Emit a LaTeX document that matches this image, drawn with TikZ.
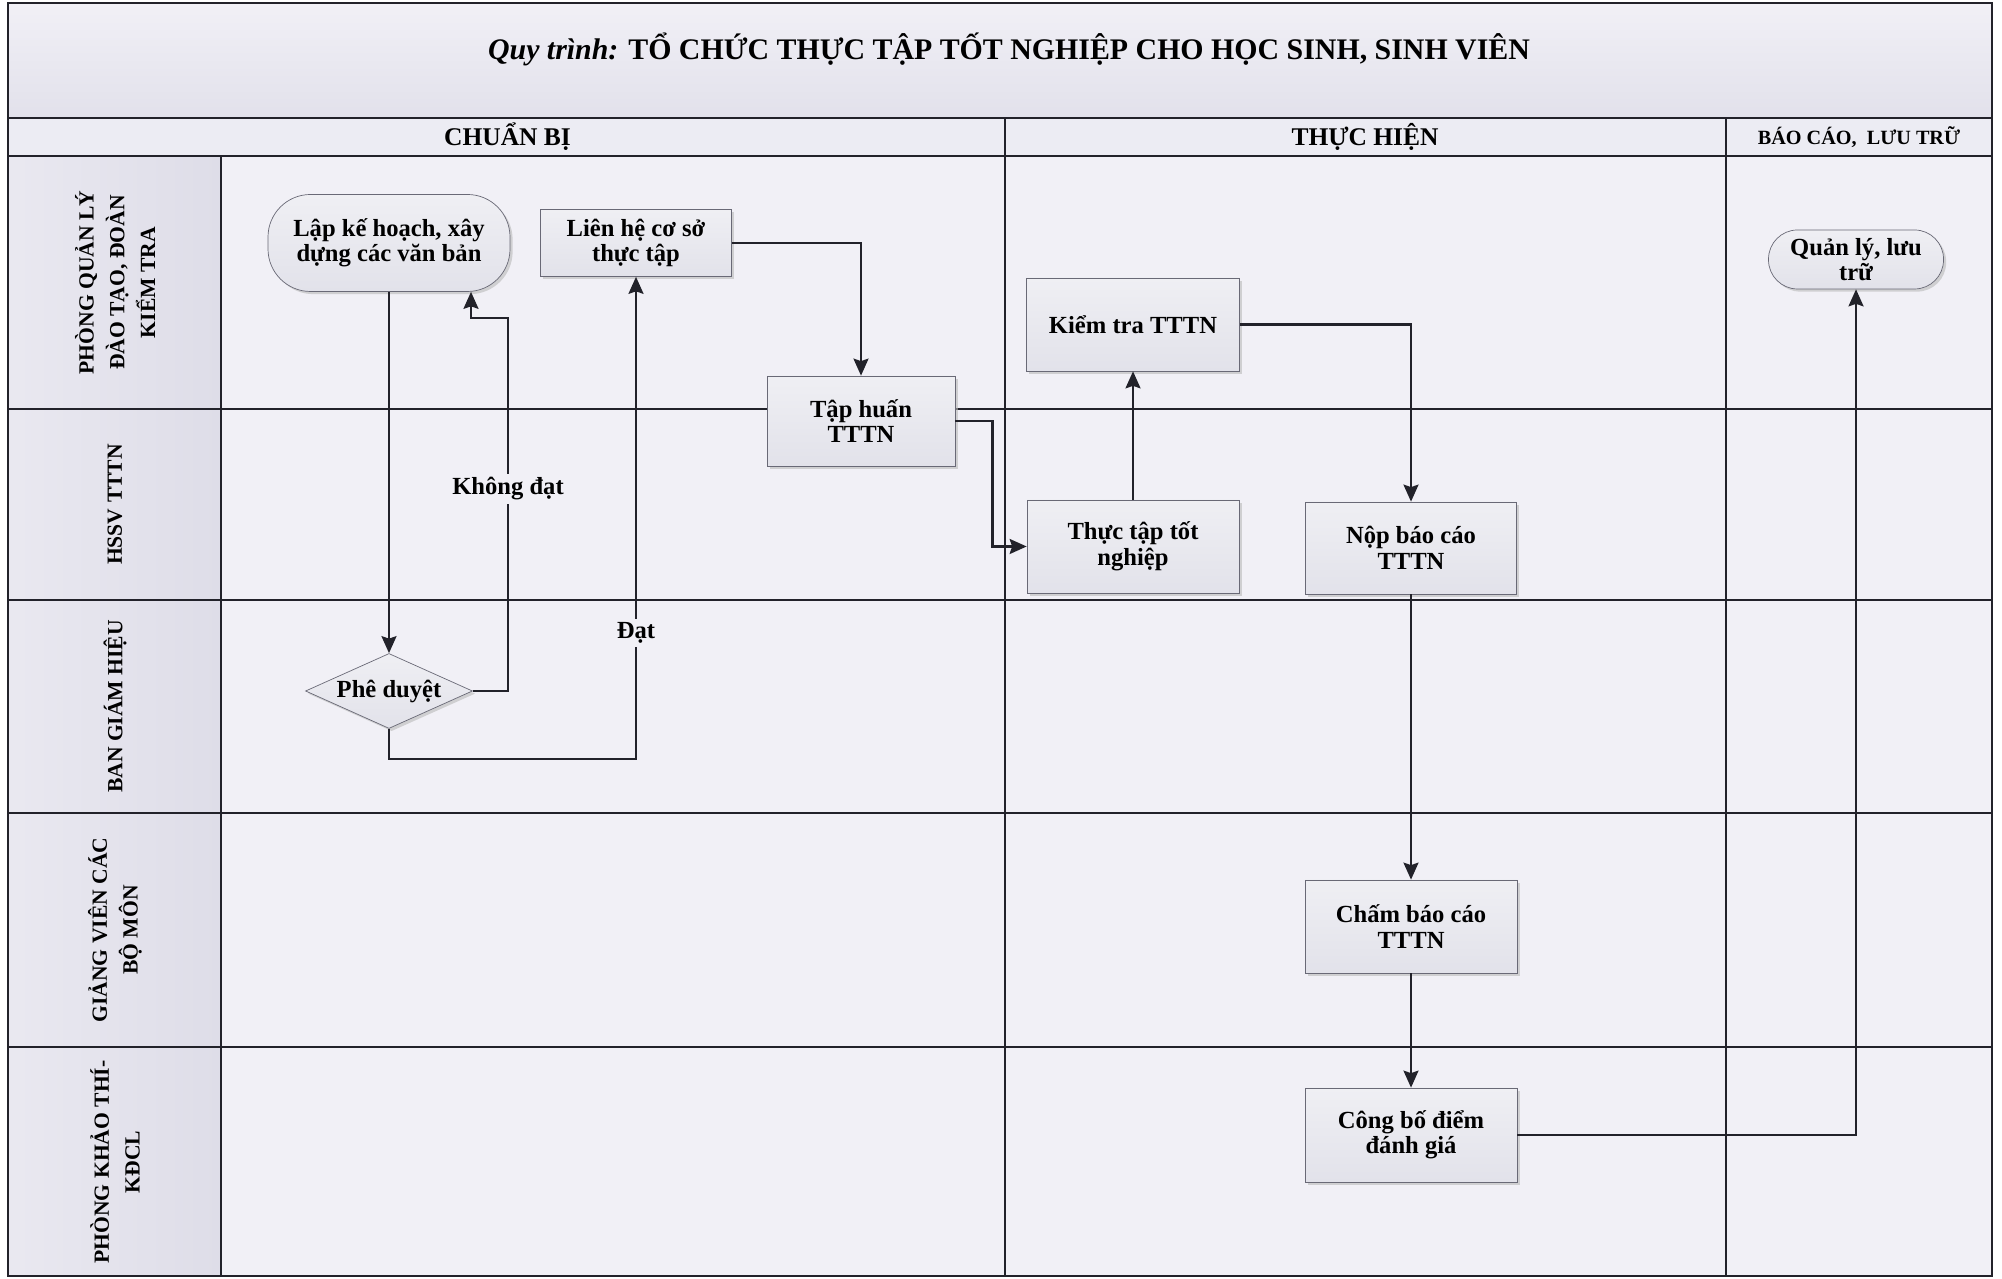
\documentclass[tikz,border=0pt]{standalone}
\usepackage{fontspec}
\setmainfont{Liberation Serif}
\usetikzlibrary{arrows.meta,positioning,shapes.geometric,shadows}

\definecolor{paper}{RGB}{241,240,246}
\definecolor{band}{RGB}{226,225,235}
\definecolor{lanehead}{RGB}{222,221,232}
\definecolor{boxfill}{RGB}{226,226,234}
\definecolor{boxline}{RGB}{105,105,118}
\definecolor{ink}{RGB}{34,34,42}

\begin{document}
\begin{tikzpicture}[font=\bfseries]
  %----- styles
  \tikzset{
    proc/.style    ={draw=boxline,thin,top color=boxfill!55!white,bottom color=boxfill,
                     drop shadow={shadow xshift=1.5pt,shadow yshift=-1.5pt,fill=gray!55,opacity=0.6},
                     align=center,font=\bfseries\fontsize{14}{14.5}\selectfont},
    term/.style    ={proc,rounded corners=0.85cm},
    decision/.style={proc,diamond,aspect=2.2,inner sep=0pt,minimum width=3.34cm,minimum height=1.5cm},
    lanelabel/.style={rotate=90,align=center,font=\bfseries\fontsize{12.3}{17.5}\selectfont},
    phase/.style   ={font=\bfseries\fontsize{14.5}{16}\selectfont},
    grid/.style    ={ink,line width=1.1pt},
    flow/.style    ={ink,line width=1.3pt,-{Stealth[length=0.34cm,width=0.3cm,inset=0.05cm]}},
    note/.style    ={fill=paper,inner sep=2pt,font=\bfseries\fontsize{14}{14.5}\selectfont}
  }

  %----- background and frame
  \useasboundingbox (0,0) rectangle (40.04,25.58);
  \fill[white] (0,0) rectangle (40.04,25.58);
  \fill[paper] (0.16,0.06) rectangle (39.84,25.52);
  \shade[top color=paper,bottom color=band] (0.16,23.22) rectangle (39.84,25.52);
  \fill[paper!70!band] (0.16,22.46) rectangle (39.84,23.22);
  \shade[left color=paper!60!lanehead,right color=lanehead] (0.16,0.06) rectangle (4.42,22.46);

  % lane lines
  \draw[grid,line width=1.6pt] (0.16,23.22) -- (39.84,23.22);
  \draw[grid,line width=1.6pt] (0.16,22.46) -- (39.84,22.46);
  \draw[grid] (0.16,17.4)  -- (39.84,17.4);
  \draw[grid] (0.16,13.58) -- (39.84,13.58);
  \draw[grid] (0.16,9.32)  -- (39.84,9.32);
  \draw[grid] (0.16,4.64)  -- (39.84,4.64);
  % column lines
  \draw[grid,line width=0.9pt] (4.42,22.46) -- (4.42,0.06);
  \draw[grid,line width=0.9pt] (20.1,23.22) -- (20.1,0.06);
  \draw[grid,line width=0.9pt] (34.52,23.22) -- (34.52,0.06);
  \draw[grid,line width=1.4pt] (0.16,0.06) rectangle (39.84,25.52);

  %----- title and phases
  \node[font=\bfseries\fontsize{17}{20}\selectfont] (title) at (20.18,24.6)
    {\textit{Quy trình:} TỔ CHỨC THỰC TẬP TỐT NGHIỆP CHO HỌC SINH, SINH VIÊN};
  \node[phase] (chuanbi) at (10.15,22.84) {CHUẨN BỊ};
  \node[phase] (thuchien) at (27.3,22.84) {THỰC HIỆN};
  \node[phase,font=\bfseries\fontsize{11.5}{13}\selectfont] (baocao) at (37.18,22.84) {BÁO CÁO,~ LƯU TRỮ};

  %----- lanes
  \node[lanelabel] (lane1) at (2.3,19.93) {PHÒNG QUẢN LÝ\\ĐÀO TẠO, ĐOÀN\\KIỂM TRA};
  \node[lanelabel] (lane2) at (2.3,15.49) {HSSV TTTN};
  \node[lanelabel] (lane3) at (2.3,11.45) {BAN GIÁM HIỆU};
  \node[lanelabel] (lane4) at (2.3,6.98)  {GIẢNG VIÊN CÁC\\BỘ MÔN};
  \node[lanelabel] (lane5) at (2.3,2.34)  {PHÒNG KHẢO THÍ-\\KĐCL};

  %----- steps
  \node[term,minimum width=4.84cm,minimum height=1.94cm] (lap) at (7.78,20.72) {Lập kế hoạch, xây\\dựng các văn bản};
  \node[proc,minimum width=3.82cm,minimum height=1.34cm] (lienhe) at (12.72,20.72) {Liên hệ cơ sở\\thực tập};
  \node[proc,minimum width=3.76cm,minimum height=1.8cm] (taphuan) at (17.22,17.16) {Tập huấn\\TTTN};
  \node[decision] (pheduyet) at (7.78,11.76) {Phê duyệt};

  \node[proc,minimum width=4.26cm,minimum height=1.86cm] (kiemtra) at (22.66,19.09) {Kiểm tra TTTN};
  \node[proc,minimum width=4.24cm,minimum height=1.86cm] (thuctap) at (22.66,14.65) {Thực tập tốt\\nghiệp};
  \node[proc,minimum width=4.22cm,minimum height=1.84cm] (nop) at (28.22,14.62) {Nộp báo cáo\\TTTN};
  \node[proc,minimum width=4.24cm,minimum height=1.86cm] (cham) at (28.22,7.05) {Chấm báo cáo\\TTTN};
  \node[proc,minimum width=4.24cm,minimum height=1.88cm] (congbo) at (28.22,2.88) {Công bố điểm\\đánh giá};

  \node[term,rounded corners=0.58cm,minimum width=3.5cm,minimum height=1.18cm] (quanly) at (37.12,20.39) {Quản lý, lưu\\trữ};

  %----- connections
  \draw[flow] (lap.south) -- (pheduyet.north);

  % not approved: back to planning
  \coordinate (kdA) at (10.16,19.22);
  \coordinate (kdB) at (9.42,19.22);
  \draw[flow] (pheduyet.east) -| (kdA) -- (kdB) -- (kdB |- lap.south);
  \node[note] (khongdat) at (10.16,15.8) {Không đạt};

  % approved: contact the host
  \coordinate (datA) at (12.72,10.4);
  \draw[flow] (pheduyet.south) |- (datA) -- (lienhe.south);
  \node[note] (dat) at (12.72,12.92) {Đạt};

  \draw[flow] (lienhe.east) -| (taphuan.north);
  \draw[flow] (taphuan.east) -- ++(0.74,0) |- (thuctap.west);
  \draw[flow] (thuctap.north) -- (kiemtra.south);
  \draw[flow] (kiemtra.east) -| (nop.north);
  \draw[flow] (nop.south) -- (cham.north);
  \draw[flow] (cham.south) -- (congbo.north);
  \draw[flow] (congbo.east) -| (quanly.south);
\end{tikzpicture}
\end{document}
